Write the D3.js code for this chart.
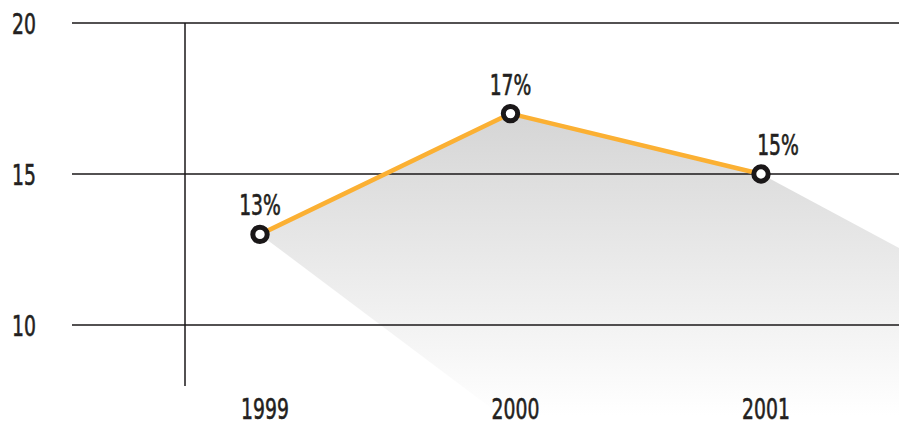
<!DOCTYPE html>
<html>
<head>
<meta charset="utf-8">
<script src="https://cdn.jsdelivr.net/npm/d3@7"></script>
<style>
  body { margin: 0; background: #fff; }
  text { font-family: "Liberation Sans Narrow", "DejaVu Sans Condensed", sans-serif; fill: #231f20; }
</style>
</head>
<body>
<div id="chart"></div>
<script>
const years = [1999, 2000, 2001];
const values = [13, 17, 15];
const valueLabels = ['13%', '17%', '15%'];
const yTicks = [10, 15, 20];

const svgWidth = 899;
const svgHeight = 423;

const svg = d3.select('#chart')
  .append('svg')
  .attr('width', svgWidth)
  .attr('height', svgHeight);

const x = d3.scaleLinear().domain([1999, 2001]).range([260, 761]);
const y = d3.scaleLinear().domain([10, 20]).range([325, 23]);

const data = years.map((yr, i) => ({ year: yr, value: values[i], label: valueLabels[i] }));
const pts = data.map(d => [x(d.year), y(d.value)]);

// light source far up-left, shadow is cast away from it
const light = [-1266, -912];
const cast = p => [p[0] + 2 * (p[0] - light[0]), p[1] + 2 * (p[1] - light[1])];

const defs = svg.append('defs');
const grad = defs.append('linearGradient')
  .attr('id', 'shade')
  .attr('gradientUnits', 'userSpaceOnUse')
  .attr('x1', 0).attr('x2', 0)
  .attr('y1', y(17)).attr('y2', svgHeight - 8);
grad.append('stop').attr('offset', 0).attr('stop-color', '#d5d5d5');
grad.append('stop').attr('offset', 1).attr('stop-color', '#ffffff');

defs.append('clipPath').attr('id', 'clip')
  .append('rect').attr('width', svgWidth).attr('height', svgHeight);

const shadow = [pts[0], pts[1], pts[2], cast(pts[2]), cast(pts[0])];
svg.append('path')
  .attr('clip-path', 'url(#clip)')
  .attr('d', d3.line()(shadow) + 'Z')
  .attr('fill', 'url(#shade)');

// horizontal grid
svg.append('g')
  .selectAll('line')
  .data(yTicks)
  .join('line')
  .attr('x1', 72).attr('x2', svgWidth)
  .attr('y1', d => y(d)).attr('y2', d => y(d))
  .attr('stroke', '#1a1718')
  .attr('stroke-width', 1.5);

// vertical axis line
svg.append('line')
  .attr('x1', 185).attr('x2', 185)
  .attr('y1', y(20)).attr('y2', 386)
  .attr('stroke', '#1a1718')
  .attr('stroke-width', 1.5);

const font = 'font-size:29px;stroke:#231f20;stroke-width:0.6px';

svg.append('g')
  .selectAll('text')
  .data(yTicks)
  .join('text')
  .attr('transform', d => `translate(12,${y(d) + 11}) scale(0.72,1)`)
  .attr('style', font)
  .text(d => d);

svg.append('g')
  .selectAll('text')
  .data(years)
  .join('text')
  .attr('transform', d => `translate(${x(d) + 5},419) scale(0.72,1)`)
  .attr('text-anchor', 'middle')
  .attr('style', font)
  .text(d => d);

svg.append('path')
  .datum(pts)
  .attr('d', d3.line())
  .attr('fill', 'none')
  .attr('stroke', '#fbb033')
  .attr('stroke-width', 4.5)
  .attr('stroke-linejoin', 'round');

svg.append('g')
  .selectAll('circle')
  .data(pts)
  .join('circle')
  .attr('cx', d => d[0])
  .attr('cy', d => d[1])
  .attr('r', 7.2)
  .attr('fill', '#fff')
  .attr('stroke', '#1a1718')
  .attr('stroke-width', 5);

svg.append('g')
  .selectAll('text')
  .data(data)
  .join('text')
  .attr('transform', (d, i) => `translate(${x(d.year) + (i === 2 ? 17 : 0)},${y(d.value) - 19}) scale(0.72,1)`)
  .attr('text-anchor', 'middle')
  .attr('style', font)
  .text(d => d.label);
</script>
</body>
</html>
